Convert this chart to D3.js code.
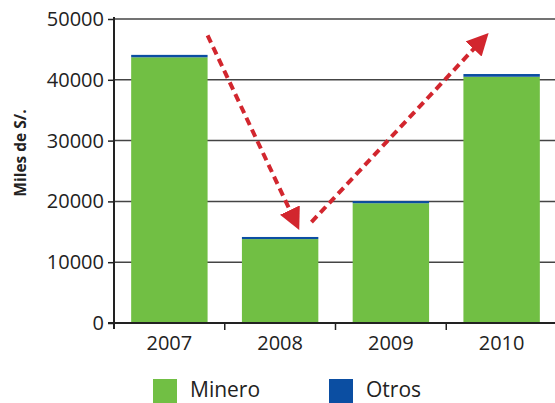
<!DOCTYPE html>
<html>
<head>
<meta charset="utf-8">
<script src="https://cdn.jsdelivr.net/npm/d3@7"></script>
<style>
  body { margin: 0; background: #fff; }
  text { font-family: "Open Sans", sans-serif; fill: #222; }
</style>
</head>
<body>
<div id="chart"></div>
<script>
const years = ['2007', '2008', '2009', '2010'];
const minero = [43700, 13800, 19700, 40500];
const otros = [400, 350, 350, 450];
const yTicks = [0, 10000, 20000, 30000, 40000, 50000];
const seriesNames = ['Minero', 'Otros'];
const seriesColors = ['#71bf44', '#0b4ea2'];

// trend arrows: [category, fraction of bar width, value]
const arrows = [
  [['2007', 1.0, 47300], ['2008', 0.75, 15300]],
  [['2008', 0.91, 16600], ['2010', 0.33, 47700]]
];

const W = 555, H = 403;
const margin = { top: 19, right: 0, bottom: 80, left: 114 };
const width = W - margin.left - margin.right;
const height = H - margin.top - margin.bottom;

const svg = d3.select('#chart').append('svg')
  .attr('width', W).attr('height', H);
const g = svg.append('g')
  .attr('transform', `translate(${margin.left},${margin.top})`);

const x = d3.scaleBand().domain(years).range([0, width + 2]).paddingInner(0.31).paddingOuter(0.155);
const step = x.step();
const y = d3.scaleLinear().domain([0, 50000]).range([height, 0]);

// gridlines
g.append('g')
  .selectAll('line')
  .data(yTicks.filter(d => d > 0))
  .enter().append('line')
    .attr('x1', 0).attr('x2', W - margin.left)
    .attr('y1', d => y(d)).attr('y2', d => y(d))
    .attr('stroke', '#444').attr('stroke-width', 1.5);

const data = years.map((yr, i) => ({ yr, m: minero[i], o: otros[i] }));

g.selectAll('.bar-m').data(data).enter().append('rect')
  .attr('class', 'bar-m')
  .attr('x', d => x(d.yr)).attr('width', x.bandwidth())
  .attr('y', d => y(d.m)).attr('height', d => y(0) - y(d.m))
  .attr('fill', seriesColors[0]);

g.selectAll('.bar-o').data(data).enter().append('rect')
  .attr('class', 'bar-o')
  .attr('x', d => x(d.yr)).attr('width', x.bandwidth())
  .attr('y', d => y(d.m + d.o)).attr('height', d => y(d.m) - y(d.m + d.o))
  .attr('fill', seriesColors[1]);

// y axis
const yAxis = g.append('g')
  .call(d3.axisLeft(y).tickValues(yTicks).tickSize(6).tickPadding(4).tickFormat(d3.format('d')));
yAxis.select('.domain').attr('stroke', '#222').attr('stroke-width', 2).attr('d', `M0,${height + 6}V${-2}`);
yAxis.selectAll('.tick line').attr('stroke', '#222').attr('stroke-width', 1.5);
yAxis.selectAll('text').attr('font-size', 20).style('fill', '#222');

// x axis
const xAxis = g.append('g').attr('transform', `translate(0,${height})`);
xAxis.append('line')
  .attr('x1', -6).attr('x2', W - margin.left)
  .attr('stroke', '#222').attr('stroke-width', 2);
xAxis.selectAll('.sep').data(years.slice(1)).enter().append('line')
  .attr('x1', d => x(d) - (step - x.bandwidth()) / 2)
  .attr('x2', d => x(d) - (step - x.bandwidth()) / 2)
  .attr('y1', 0).attr('y2', 7)
  .attr('stroke', '#222').attr('stroke-width', 1.5);
xAxis.selectAll('.lbl').data(years).enter().append('text')
  .attr('x', d => x(d) + x.bandwidth() / 2)
  .attr('y', 27)
  .attr('text-anchor', 'middle')
  .attr('font-size', 20)
  .text(d => d);

// axis title
svg.append('text')
  .attr('transform', 'translate(26,153) rotate(-90)')
  .attr('text-anchor', 'middle')
  .attr('font-size', 15.5)
  .attr('font-weight', 'bold')
  .text('Miles de S/.');

// arrows
const red = '#d2262e';
svg.append('defs').append('marker')
  .attr('id', 'head')
  .attr('viewBox', '0 0 10 10')
  .attr('refX', 10).attr('refY', 5)
  .attr('markerWidth', 5.5).attr('markerHeight', 5.5)
  .attr('markerUnits', 'strokeWidth')
  .attr('orient', 'auto')
  .append('path').attr('d', 'M0,0L10,5L0,10Z').attr('fill', red);

const px = p => x(p[0]) + p[1] * x.bandwidth();
arrows.forEach(a => {
  const [p0, p1] = a;
  const x0 = px(p0), y0 = y(p0[2]), x1 = px(p1), y1 = y(p1[2]);
  const len = Math.hypot(x1 - x0, y1 - y0);
  const back = 18;
  g.append('line')
    .attr('x1', x0).attr('y1', y0)
    .attr('x2', x1 - (x1 - x0) / len * back).attr('y2', y1 - (y1 - y0) / len * back)
    .attr('stroke', red).attr('stroke-width', 4)
    .attr('stroke-dasharray', '8,5');
  g.append('line')
    .attr('x1', x1 - (x1 - x0) / len * 20).attr('y1', y1 - (y1 - y0) / len * 20)
    .attr('x2', x1).attr('y2', y1)
    .attr('stroke', 'none').attr('stroke-width', 4)
    .attr('marker-end', 'url(#head)');
});

// legend
const legend = svg.append('g').attr('transform', 'translate(153,379)');
const items = legend.selectAll('g').data(seriesNames).enter().append('g')
  .attr('transform', (d, i) => `translate(${i * 176},0)`);
items.append('rect').attr('width', 24).attr('height', 24)
  .attr('fill', (d, i) => seriesColors[i]);
items.append('text').attr('x', 37).attr('y', 18)
  .attr('font-size', 21).text(d => d);
</script>
</body>
</html>
